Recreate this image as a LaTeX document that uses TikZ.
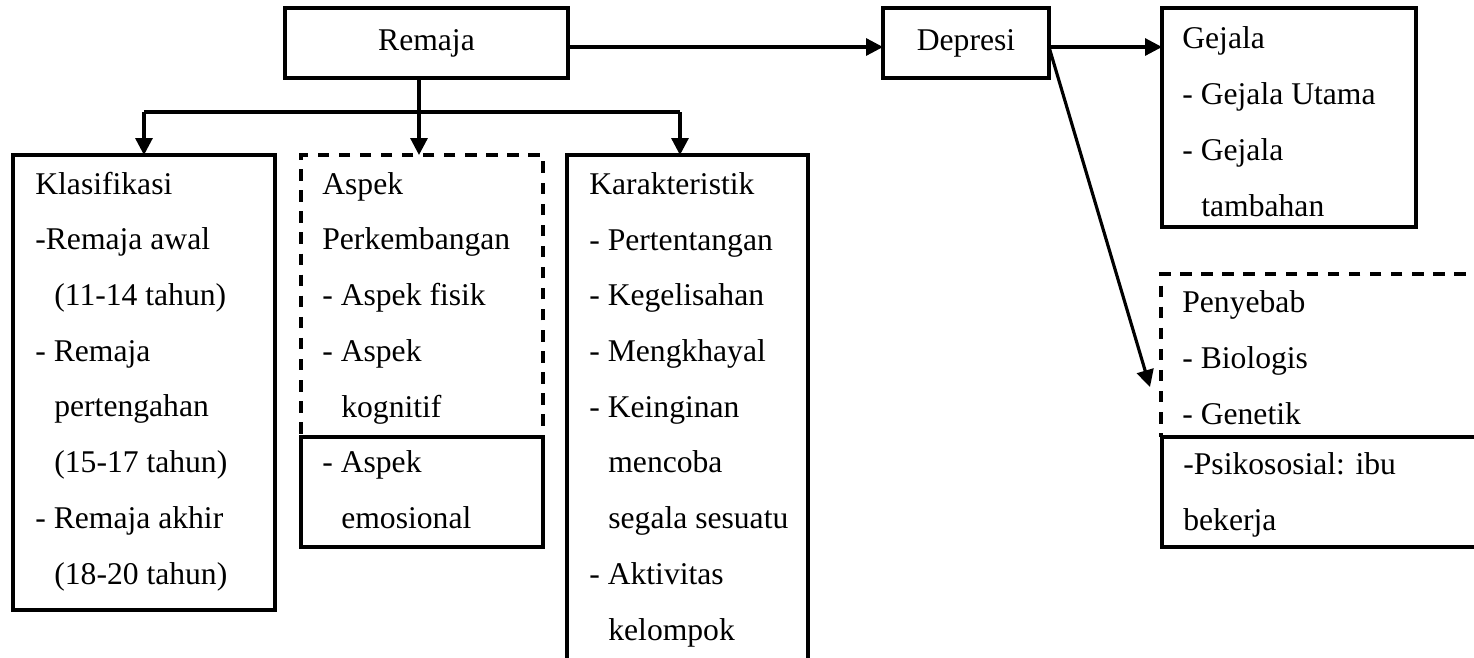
\documentclass[tikz,border=0pt]{standalone}
\usepackage{fontspec}
\setmainfont{Liberation Serif}
\usetikzlibrary{arrows.meta, positioning}
\newcommand{\indt}{\hspace*{0.38cm}}

\begin{document}
\begin{tikzpicture}[
  x=0.02cm, y=-0.02cm,
  box/.style={draw, line width=1.9pt, inner sep=0pt, outer sep=0pt, anchor=north west},
  heavy/.style={line width=2.5pt},
  dashbox/.style={box, dash pattern=on 6.5pt off 5.5pt},
  txt/.style={anchor=base west, align=left, inner sep=0pt},
  conn/.style={-{Triangle[length=0.34cm, width=0.34cm]}, line width=1.8pt},
  every node/.append style={font=\fontsize{18}{31.7}\selectfont}
]
\useasboundingbox (0,0) rectangle (1474,657);
\clip (0,0) rectangle (1474,657);

\node[box, anchor=center, minimum width=5.66cm, minimum height=1.4cm] (remaja) at (426.5,43) {Remaja};
\node[box, anchor=center, minimum width=3.32cm, minimum height=1.4cm] (depresi) at (966,43) {Depresi};
\node[box, minimum width=5.08cm, minimum height=4.38cm] (gejala) at (1162,8) {};
\node[box, heavy, minimum width=5.24cm, minimum height=9.1cm] (klas) at (13,155) {};
\node[dashbox, minimum width=4.84cm, minimum height=5.64cm] (aspek) at (301,155) {};
\node[box, minimum width=4.84cm, minimum height=2.2cm] (emosi) at (301,437) {};
\node[box, minimum width=4.82cm, minimum height=11cm] (karakter) at (567,155) {};
\node[dashbox, minimum width=6.9cm, minimum height=3.26cm] (penyebab) at (1161,274) {};
\node[box, heavy, minimum width=6.9cm, minimum height=2.2cm] (psiko) at (1162,437) {};

% text blocks sit on the baseline of their last line
\node[txt] (klasText) at (35,584) {Klasifikasi\\-Remaja awal\\\indt(11-14 tahun)\\- Remaja\\\indt pertengahan\\\indt(15-17 tahun)\\- Remaja akhir\\\indt(18-20 tahun)};
\node[txt] (aspekText) at (322,417) {Aspek\\Perkembangan\\- Aspek fisik\\- Aspek\\\indt kognitif};
\node[txt] (emosiText) at (322,528) {- Aspek\\\indt emosional};
\node[txt] (karText) at (589,640) {Karakteristik\\- Pertentangan\\- Kegelisahan\\- Mengkhayal\\- Keinginan\\\indt mencoba\\\indt segala sesuatu\\- Aktivitas\\\indt kelompok};
\node[txt] (gejalaText) at (1182,216) {Gejala\\- Gejala Utama\\- Gejala\\\indt tambahan};
\node[txt] (penyebabText) at (1182,424) {Penyebab\\- Biologis\\- Genetik};
\node[txt] (psikoText) at (1183,530) {-Psikososial: ibu\\bekerja};

\coordinate (fork) at (419,112);
\coordinate (karTop) at ([xshift=-0.15cm]karakter.north);
\coordinate (remOut) at ([yshift=-0.08cm]remaja.east);
\coordinate (depOut) at ([yshift=-0.08cm]depresi.east);
\coordinate (causeTip) at (1150,387);

\draw[line width=1.8pt] (remaja.south -| fork) -- (fork);
\draw[heavy] (klas.north |- fork) -- (karTop |- fork);
\draw[conn] (klas.north |- fork) -- (klas.north);
\draw[conn] (fork) -- (fork |- aspek.north);
\draw[conn] (karTop |- fork) -- (karTop);
\draw[conn] (remOut) -- (remOut -| depresi.west);
\draw[conn] (depOut) -- (depOut -| gejala.west);
\draw[conn] (depOut) -- (causeTip);
\end{tikzpicture}
\end{document}
